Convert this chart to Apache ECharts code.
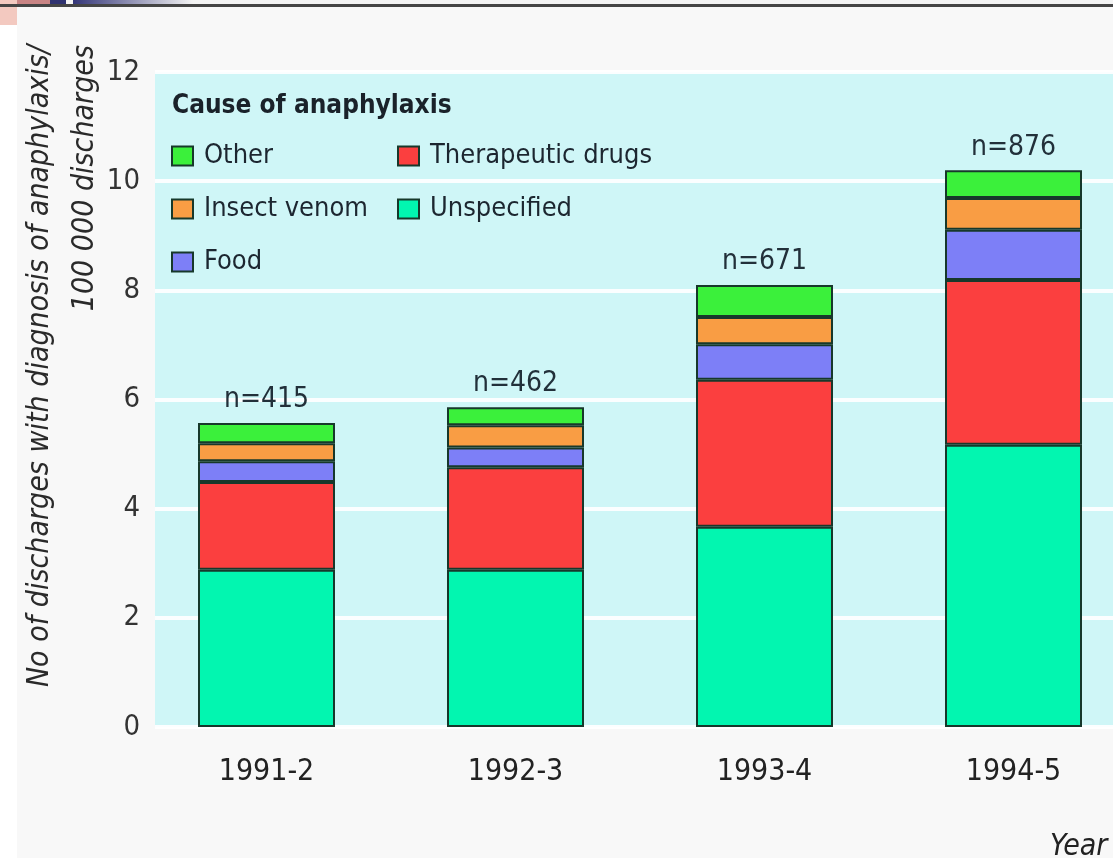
<!DOCTYPE html>
<html>
<head>
<meta charset="utf-8">
<script src="https://cdn.jsdelivr.net/npm/echarts@6/dist/echarts.min.js"></script>
<style>
html,body{margin:0;padding:0;background:#f8f8f8;}
#chart{width:1113px;height:858px;}
</style>
</head>
<body>
<div id="chart"></div>
<script>
const categories = ['1991-2', '1992-3', '1993-4', '1994-5'];
const unspecified = [2.88, 2.88, 3.67, 5.17];
const therapeutic = [1.61, 1.88, 2.69, 3.02];
const food = [0.38, 0.36, 0.65, 0.92];
const insect = [0.33, 0.41, 0.50, 0.58];
const other = [0.37, 0.33, 0.59, 0.51];
const nLabels = ['n=415', 'n=462', 'n=671', 'n=876'];
const yMin = 0, yMax = 12, yStep = 2;

const FONT = '"DejaVu Sans Condensed", "Liberation Sans Narrow", "Liberation Sans", sans-serif';
const BORDER = '#17382b';

const chart = echarts.init(document.getElementById('chart'));

function bar(name, data, color, extra) {
  return Object.assign({
    name: name, type: 'bar', stack: 'total', data: data,
    xAxisIndex: 1, yAxisIndex: 1, barWidth: 137,
    itemStyle: { color: color, borderColor: BORDER, borderWidth: 2 }
  }, extra || {});
}

const legendCommon = {
  orient: 'vertical', top: 141, padding: 0, itemWidth: 21, itemHeight: 19, itemGap: 23,
  icon: 'rect', selectedMode: false,
  itemStyle: { borderColor: BORDER, borderWidth: 2 },
  textStyle: { fontFamily: FONT, fontSize: 27, lineHeight: 30, color: '#1c2630', padding: [0, 0, 0, 6] }
};

chart.setOption({
  backgroundColor: '#f8f8f8',
  animation: false,
  title: {
    text: 'Cause of anaphylaxis', left: 172, top: 93, padding: 0,
    textStyle: { fontFamily: FONT, fontSize: 26, fontWeight: 'bold', color: '#1a222a' }
  },
  legend: [
    Object.assign({ left: 171, data: ['Other', 'Insect venom', 'Food'] }, legendCommon),
    Object.assign({ left: 397, data: ['Therapeutic drugs', 'Unspecified'] }, legendCommon)
  ],
  grid: [
    { left: 155, width: 1000, top: 72, bottom: 131, show: true, backgroundColor: '#cff6f7', borderWidth: 0, outerBoundsMode: 'none', containLabel: false },
    { left: 142, width: 996, top: 72, bottom: 131, outerBoundsMode: 'none', containLabel: false }
  ],
  xAxis: [
    { type: 'category', gridIndex: 0, data: categories, show: false },
    {
      type: 'category', gridIndex: 1, data: categories,
      axisLine: { show: false }, axisTick: { show: false },
      axisLabel: { margin: 30, fontFamily: FONT, fontSize: 30, color: '#222' }
    }
  ],
  yAxis: [
    {
      type: 'value', gridIndex: 0, min: yMin, max: yMax, interval: yStep,
      axisLine: { show: false }, axisTick: { show: false },
      axisLabel: { margin: 15, fontFamily: FONT, fontSize: 29, color: '#333' },
      splitLine: { show: true, lineStyle: { color: 'rgba(255,255,255,0.9)', width: 4 } }
    },
    { type: 'value', gridIndex: 1, min: yMin, max: yMax, interval: yStep, show: false, splitLine: { show: false } }
  ],
  series: [
    bar('Unspecified', unspecified, '#02f6b0'),
    bar('Therapeutic drugs', therapeutic, '#fb3f3f'),
    bar('Food', food, '#7d7ff7'),
    bar('Insect venom', insect, '#f99d44'),
    bar('Other', other, '#3bf03b', {
      label: {
        show: true, position: 'top', distance: 9,
        formatter: function (p) { return nLabels[p.dataIndex]; },
        fontFamily: FONT, fontSize: 28, color: '#22303a'
      }
    })
  ],
  graphic: [
    { type: 'rect', shape: { x: 0, y: 0, width: 17, height: 858 }, style: { fill: '#ffffff' }, silent: true, z: -1 },
    { type: 'rect', shape: { x: 0, y: 0, width: 1113, height: 4 }, style: { fill: '#f4f4f4' }, silent: true },
    { type: 'rect', shape: { x: 0, y: 0, width: 17, height: 25 }, style: { fill: '#f3c9c0' }, silent: true },
    { type: 'rect', shape: { x: 17, y: 0, width: 33, height: 4 }, style: { fill: '#c88484' }, silent: true },
    { type: 'rect', shape: { x: 50, y: 0, width: 16, height: 4 }, style: { fill: '#2f3270' }, silent: true },
    {
      type: 'rect', shape: { x: 73, y: 0, width: 120, height: 4 }, silent: true,
      style: { fill: new echarts.graphic.LinearGradient(0, 0, 1, 0, [{ offset: 0, color: '#343678' }, { offset: 1, color: '#f4f4f4' }]) }
    },
    { type: 'rect', shape: { x: 0, y: 4, width: 1113, height: 3 }, style: { fill: '#454545' }, silent: true },
    {
      type: 'text', x: 40, y: 45, rotation: Math.PI / 2, silent: true,
      style: { text: 'No of discharges with diagnosis of anaphylaxis/', font: 'italic 30px ' + FONT, fill: '#2a2a2a', align: 'right', verticalAlign: 'middle' }
    },
    {
      type: 'text', x: 85, y: 45, rotation: Math.PI / 2, silent: true,
      style: { text: '100 000 discharges', font: 'italic 30px ' + FONT, fill: '#2a2a2a', align: 'right', verticalAlign: 'middle' }
    },
    {
      type: 'text', x: 1050, y: 847, silent: true,
      style: { text: 'Year', font: 'italic 30px ' + FONT, fill: '#222', align: 'left', verticalAlign: 'middle' }
    }
  ]
});
</script>
</body>
</html>
